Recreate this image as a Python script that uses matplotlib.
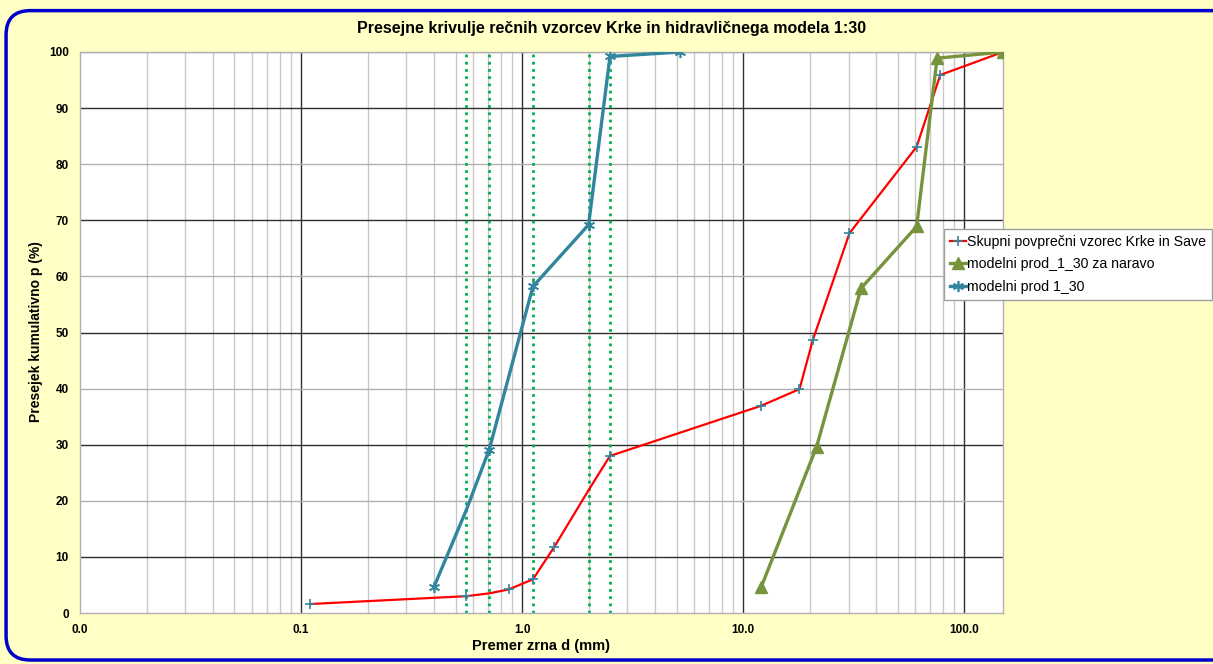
import matplotlib.pyplot as plt
from matplotlib.patches import FancyBboxPatch
from matplotlib.ticker import FixedLocator, NullFormatter

# grain size (mm) and cumulative passing (%)
skupni_d = [0.11, 0.56, 0.71, 0.87, 1.12, 1.40, 2.0, 2.5, 12.0, 18.0, 20.7, 30.3, 61.0, 78.0, 150.0]
skupni_p = [1.6, 3.0, 3.5, 4.2, 6.0, 11.8, 21.9, 28.0, 36.9, 39.9, 48.7, 67.7, 83.1, 95.9, 100.0]

naravo_d = [12.1, 21.5, 34.2, 61.0, 75.5, 150.0]
naravo_p = [4.7, 29.6, 57.9, 68.9, 98.9, 100.0]

model_d = [0.40, 0.56, 0.71, 1.12, 2.0, 2.5, 5.2]
model_p = [4.7, 18.4, 29.1, 58.2, 69.2, 99.2, 100.0]

# characteristic sieve sizes (green dotted lines)
sieve_d = [0.56, 0.71, 1.12, 2.0, 2.5]

x_ticks = [0.01, 0.1, 1.0, 10.0, 100.0]
x_labels = ["0.0", "0.1", "1.0", "10.0", "100.0"]
y_ticks = list(range(0, 101, 10))

RED = "#FF0000"
OLIVE = "#77933C"
TEAL = "#31859C"
BG = "#FFFFC6"

plt.rcParams["font.family"] = ["Liberation Sans", "DejaVu Sans"]

fig = plt.figure(figsize=(12.13, 6.64), dpi=100)
fig.patch.set_facecolor(BG)
frame = FancyBboxPatch((0.005, 0.006), 1.05, 0.978, boxstyle="round,pad=0,rounding_size=0.02",
                       transform=fig.transFigure, facecolor=BG, edgecolor="#0000CC",
                       linewidth=2.5, zorder=-5, mutation_aspect=1213 / 664)
fig.patches.append(frame)

ax = fig.add_axes([80 / 1213, 1 - 613 / 664, 923 / 1213, 561 / 664])
ax.set_zorder(2)
ax.set_facecolor("white")
ax.set_xscale("log")
ax.set_xlim(0.01, 150)
ax.set_ylim(0, 100)

# grid
minors = [m * 10.0 ** e for e in range(-2, 3) for m in range(2, 10)]
for xv in minors:
    if xv < 150:
        ax.axvline(xv, color="#C8C8C8", linewidth=1.0, zorder=1)
for xv in x_ticks[1:]:
    ax.axvline(xv, color="#303030", linewidth=1.0, zorder=1)
for yv in y_ticks[1:]:
    col = "#303030" if yv % 20 else "#B0B0B0"
    ax.axhline(yv, color=col, linewidth=1.0, zorder=1)

for d in sieve_d:
    ax.axvline(d, color="#00B050", linestyle=(0, (1, 1.6)), linewidth=2.0, zorder=2)

ax.plot(skupni_d, skupni_p, color=RED, linewidth=1.6, marker="+", markersize=7,
        markeredgecolor=TEAL, markeredgewidth=1.2, zorder=4,
        markevery=[0, 1, 3, 4, 5, 7, 8, 9, 10, 11, 12, 13],
        label="Skupni povprečni vzorec Krke in Save")
ax.plot(naravo_d, naravo_p, color=OLIVE, linewidth=2.4, marker="^", markersize=8,
        markerfacecolor=OLIVE, markeredgecolor=OLIVE, zorder=4,
        label="modelni prod_1_30 za naravo")
ax.plot(model_d, model_p, color=TEAL, linewidth=2.4, marker=(6, 2, 0), markersize=8,
        markeredgecolor=TEAL, markeredgewidth=1.2, zorder=4, markevery=[0, 2, 3, 4, 5, 6],
        label="modelni prod 1_30")

ax.xaxis.set_major_locator(FixedLocator(x_ticks))
ax.xaxis.set_minor_formatter(NullFormatter())
ax.set_xticks(x_ticks)
ax.set_xticklabels(x_labels)
ax.set_yticks(y_ticks)
ax.tick_params(axis="both", which="both", length=0, labelsize=8.5, pad=8)
for lab in ax.get_xticklabels() + ax.get_yticklabels():
    lab.set_fontweight("bold")

for s in ax.spines.values():
    s.set_color("#B0B0B0")
    s.set_linewidth(1.0)

fig.text(612 / 1213, 1 - 28 / 664, "Presejne krivulje rečnih vzorcev Krke in hidravličnega modela 1:30",
         ha="center", va="center", fontsize=11.5, fontweight="bold")
fig.text(541 / 1213, 1 - 646 / 664, "Premer zrna d (mm)", ha="center", va="center",
         fontsize=10.5, fontweight="bold")
fig.text(36 / 1213, 1 - 332 / 664, "Presejek kumulativno p (%)", ha="center", va="center",
         rotation=90, fontsize=10, fontweight="bold")

leg = fig.legend(loc="upper left", bbox_to_anchor=(944 / 1213, 1 - 229 / 664),
                 bbox_transform=fig.transFigure, fontsize=10.2, frameon=True, fancybox=False,
                 framealpha=1.0, handlelength=1.15, handletextpad=0.1, borderpad=0.4,
                 labelspacing=0.62, borderaxespad=0)
leg.get_frame().set_edgecolor("#A0A0A0")
leg.get_frame().set_linewidth(1.0)
leg.set_zorder(10)

fig.savefig("out.png", dpi=100, facecolor=BG)
